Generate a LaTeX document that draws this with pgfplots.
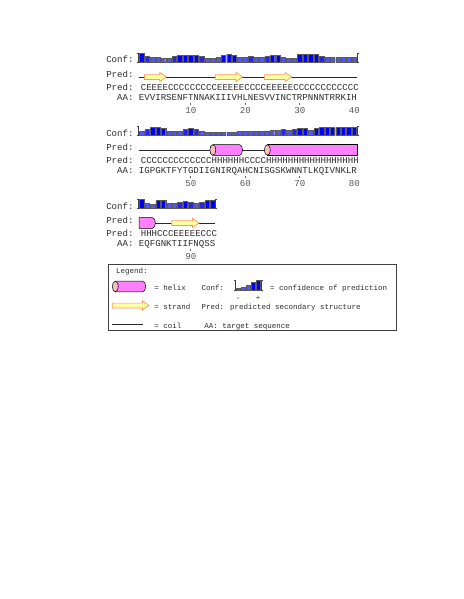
\documentclass[border=0pt]{standalone}
\usepackage{pgfplots}
\pgfplotsset{compat=1.18}
\usepackage{pgfplotstable}
\usepackage{fontspec}
\usetikzlibrary{calc}
\newfontfamily\seqfont{Liberation Mono}

\definecolor{confhi}{RGB}{0,0,255}
\definecolor{confmid}{RGB}{35,35,250}
\definecolor{conflo}{RGB}{85,85,245}
\definecolor{barline}{RGB}{90,90,90}
\definecolor{hxfill}{RGB}{255,128,255}
\definecolor{hxcap}{RGB}{245,190,190}
\definecolor{stfill}{RGB}{255,255,160}
\definecolor{stline}{RGB}{255,150,100}
\definecolor{txt}{RGB}{45,45,45}

% confidence per residue (0-9)
\pgfplotstableread{
res conf
1 9
2 6
3 5
4 5
5 4
6 4
7 6
8 7
9 7
10 7
11 7
12 6
13 4
14 4
15 5
16 7
17 8
18 7
19 5
20 5
21 6
22 5
23 5
24 6
25 7
26 7
27 5
28 4
29 4
30 8
31 8
32 8
33 8
34 6
35 5
36 5
37 5
38 5
39 5
40 5
}\confA
\pgfplotstableread{
res conf
41 4
42 6
43 8
44 8
45 7
46 4
47 4
48 4
49 6
50 7
51 6
52 4
53 3
54 3
55 3
56 3
57 3
58 3
59 4
60 4
61 4
62 4
63 4
64 4
65 5
66 5
67 6
68 5
69 6
70 7
71 7
72 5
73 7
74 8
75 8
76 8
77 8
78 8
79 8
80 8
}\confB
\pgfplotstableread{
res conf
81 9
82 5
83 4
84 8
85 8
86 5
87 5
88 6
89 7
90 6
91 5
92 6
93 8
94 8
}\confC
\pgfplotstableread{
res conf
1 1.5
2 3
3 5
4 8
5 10
}\confKey

\pgfplotsset{
  psirow/.style={scale only axis, hide axis, clip=false, anchor=south west,
    ymin=0, ymax=10, height=10pt},
  cbar/.style={ybar, bar shift=0pt, bar width=0.8, draw=barline, line width=0.4pt},
}
\tikzset{
  seq/.style={font=\seqfont\fontsize{9.08pt}{10pt}\selectfont, text=txt, inner sep=0pt, outer sep=0pt},
  key/.style={font=\seqfont\fontsize{7.5pt}{9pt}\selectfont, text=txt, inner sep=0pt, outer sep=0pt},
  num/.style={seq, text=black!65, anchor=base},
  brk/.style={draw=black!75, line width=0.6pt},
  coil/.style={draw=black!85, line width=0.7pt},
  hx/.style={draw=black, line width=0.5pt},
  st/.style={draw=stline, line width=0.7pt, fill=stfill},
}

\newcommand{\confbars}[1]{%
  \addplot[cbar, fill=conflo, restrict y to domain=0:5.5] table[x=res,y=conf]{#1};
  \addplot[cbar, fill=confmid, restrict y to domain=5.5:6.5] table[x=res,y=conf]{#1};
  \addplot[cbar, fill=confhi, restrict y to domain=6.5:10.5] table[x=res,y=conf]{#1};
}
% helix: both ends shown
\newcommand{\helixfull}[2]{%
  \draw[hx, fill=hxfill] ($#1+(3pt,5.3pt)$) -- ($#2+(-3pt,5.3pt)$)
    arc[start angle=90, end angle=-90, x radius=3pt, y radius=5.3pt]
    -- ($#1+(3pt,-5.3pt)$) -- cycle;
  \draw[hx, fill=hxcap] ($#1+(3pt,0pt)$) ellipse[x radius=3pt, y radius=5.3pt];
}
% helix coming from the previous row
\newcommand{\helixcontin}[2]{%
  \draw[hx, fill=hxfill] ($#1+(0pt,5.3pt)$) -- ($#2+(-3pt,5.3pt)$)
    arc[start angle=90, end angle=-90, x radius=3pt, y radius=5.3pt]
    -- ($#1+(0pt,-5.3pt)$) -- cycle;
}
% helix going on into the next row
\newcommand{\helixcontout}[2]{%
  \draw[hx, fill=hxfill] ($#1+(3pt,5.3pt)$) -- ($#2+(0pt,5.3pt)$)
    -- ($#2+(0pt,-5.3pt)$) -- ($#1+(3pt,-5.3pt)$) -- cycle;
  \draw[hx, fill=hxcap] ($#1+(3pt,0pt)$) ellipse[x radius=3pt, y radius=5.3pt];
}
\newcommand{\strand}[2]{%
  \draw[st] ($#1+(0pt,2.4pt)$) -- ($#2+(-6.5pt,2.4pt)$) -- ($#2+(-6.5pt,4.6pt)$)
    -- #2 -- ($#2+(-6.5pt,-4.6pt)$) -- ($#2+(-6.5pt,-2.4pt)$)
    -- ($#1+(0pt,-2.4pt)$) -- cycle;
}

\begin{document}
\begin{tikzpicture}[x=1pt,y=1pt]
\path[use as bounding box, fill=white] (0,0) rectangle (463,-599);

% ---- row 1: residues 1-40
\begin{axis}[psirow, at={(139pt,-62.5pt)}, width=218pt, xmin=0.5, xmax=40.5]
\confbars{\confA}
\draw[brk] (axis cs:0.2,9.5) -- (axis cs:0.45,9.5) -- (axis cs:0.45,0) -- (axis cs:0.2,0);
\draw[brk] (axis cs:40.8,9.5) -- (axis cs:40.55,9.5) -- (axis cs:40.55,0) -- (axis cs:40.8,0);
\addplot[coil] coordinates {(0.5,-14.5) (40.5,-14.5)};
\strand{(axis cs:1.5,-14.5)}{(axis cs:5.5,-14.5)}
\strand{(axis cs:14.5,-14.5)}{(axis cs:19.5,-14.5)}
\strand{(axis cs:23.5,-14.5)}{(axis cs:28.5,-14.5)}
\node[seq, anchor=base west] at (axis cs:-5.5,-0.5) {Conf:};
\node[seq, anchor=base west] at (axis cs:-5.5,-15) {Pred:};
\node[seq, anchor=base west] at (axis cs:-5.5,-28) {Pred: CEEEECCCCCCCCCEEEEECCCCEEEEECCCCCCCCCCCC};
\node[seq, anchor=base west] at (axis cs:-3.5,-37.5) {AA: EVVIRSENFTNNAKIIIVHLNESVVINCTRPNNNTRRKIH};
\draw[black!60, line width=0.9pt] (axis cs:10,-40.8) -- (axis cs:10,-42.3);
\draw[black!60, line width=0.9pt] (axis cs:20,-40.8) -- (axis cs:20,-42.3);
\draw[black!60, line width=0.9pt] (axis cs:30,-40.8) -- (axis cs:30,-42.3);
\node[num] at (axis cs:10,-51) {10};
\node[num] at (axis cs:20,-51) {20};
\node[num] at (axis cs:30,-51) {30};
\node[num] at (axis cs:40,-51) {40};
\end{axis}

% ---- row 2: residues 41-80
\begin{axis}[psirow, at={(139pt,-135.5pt)}, width=218pt, xmin=40.5, xmax=80.5]
\confbars{\confB}
\draw[brk] (axis cs:40.2,9.5) -- (axis cs:40.45,9.5) -- (axis cs:40.45,0) -- (axis cs:40.2,0);
\draw[brk] (axis cs:80.8,9.5) -- (axis cs:80.55,9.5) -- (axis cs:80.55,0) -- (axis cs:80.8,0);
\addplot[coil] coordinates {(40.5,-14.5) (80.5,-14.5)};
\helixfull{(axis cs:53.5,-14.5)}{(axis cs:59.5,-14.5)}
\helixcontout{(axis cs:63.5,-14.5)}{(axis cs:80.5,-14.5)}
\node[seq, anchor=base west] at (axis cs:34.5,-0.5) {Conf:};
\node[seq, anchor=base west] at (axis cs:34.5,-15) {Pred:};
\node[seq, anchor=base west] at (axis cs:34.5,-28) {Pred: CCCCCCCCCCCCCHHHHHHCCCCHHHHHHHHHHHHHHHHH};
\node[seq, anchor=base west] at (axis cs:36.5,-37.5) {AA: IGPGKTFYTGDIIGNIRQAHCNISGSKWNNTLKQIVNKLR};
\draw[black!60, line width=0.9pt] (axis cs:50,-40.8) -- (axis cs:50,-42.3);
\draw[black!60, line width=0.9pt] (axis cs:60,-40.8) -- (axis cs:60,-42.3);
\draw[black!60, line width=0.9pt] (axis cs:70,-40.8) -- (axis cs:70,-42.3);
\node[num] at (axis cs:50,-51) {50};
\node[num] at (axis cs:60,-51) {60};
\node[num] at (axis cs:70,-51) {70};
\node[num] at (axis cs:80,-51) {80};
\end{axis}

% ---- row 3: residues 81-94
\begin{axis}[psirow, at={(139pt,-208.5pt)}, width=76.3pt, xmin=80.5, xmax=94.5]
\confbars{\confC}
\draw[brk] (axis cs:80.2,9.5) -- (axis cs:80.45,9.5) -- (axis cs:80.45,0) -- (axis cs:80.2,0);
\draw[brk] (axis cs:94.8,9.5) -- (axis cs:94.55,9.5) -- (axis cs:94.55,0) -- (axis cs:94.8,0);
\addplot[coil] coordinates {(80.5,-14.5) (94.5,-14.5)};
\helixcontin{(axis cs:80.5,-14.5)}{(axis cs:83.5,-14.5)}
\strand{(axis cs:86.5,-14.5)}{(axis cs:91.5,-14.5)}
\node[seq, anchor=base west] at (axis cs:74.5,-0.5) {Conf:};
\node[seq, anchor=base west] at (axis cs:74.5,-15) {Pred:};
\node[seq, anchor=base west] at (axis cs:74.5,-28) {Pred: HHHCCCEEEEECCC};
\node[seq, anchor=base west] at (axis cs:76.5,-37.5) {AA: EQFGNKTIIFNQSS};
\draw[black!60, line width=0.9pt] (axis cs:90,-40.8) -- (axis cs:90,-42.3);
\node[num] at (axis cs:90,-51) {90};
\end{axis}

% ---- legend
\draw[black!75, line width=0.8pt] (108.3,-264) rectangle (396.7,-330.7);
\node[key, anchor=base west] at (116,-273.5) {Legend:};
\helixfull{(112.3,-286.5)}{(145.7,-286.5)}
\strand{(112.3,-305.5)}{(149,-305.5)}
\draw[coil] (112.3,-324) -- (143,-324);
\node[key, anchor=base west] at (154.3,-290.5) {= helix};
\node[key, anchor=base west] at (154.3,-309) {= strand};
\node[key, anchor=base west] at (154.3,-328) {= coil};
\node[key, anchor=base west] at (201.7,-290.5) {Conf:};
\node[key, anchor=base west] at (201.7,-309) {Pred: predicted secondary structure};
\node[key, anchor=base west] at (204.3,-328) {AA: target sequence};
\node[key, anchor=base west] at (270,-290.5) {= confidence of prediction};
\node[key, anchor=base] at (238,-300) {-};
\node[key, anchor=base] at (258,-300.5) {+};
\begin{axis}[psirow, at={(235.5pt,-290pt)}, width=25pt, xmin=0.5, xmax=5.5]
\addplot[cbar, bar width=0.7, fill=conflo, restrict y to domain=0:5.5] table[x=res,y=conf]{\confKey};
\addplot[cbar, bar width=0.7, fill=confhi, restrict y to domain=5.5:10.5] table[x=res,y=conf]{\confKey};
\draw[brk] (axis cs:0.1,10) -- (axis cs:0.4,10) -- (axis cs:0.4,0) -- (axis cs:0.1,0);
\draw[brk] (axis cs:5.9,10) -- (axis cs:5.6,10) -- (axis cs:5.6,0) -- (axis cs:5.9,0);
\end{axis}
\end{tikzpicture}
\end{document}
